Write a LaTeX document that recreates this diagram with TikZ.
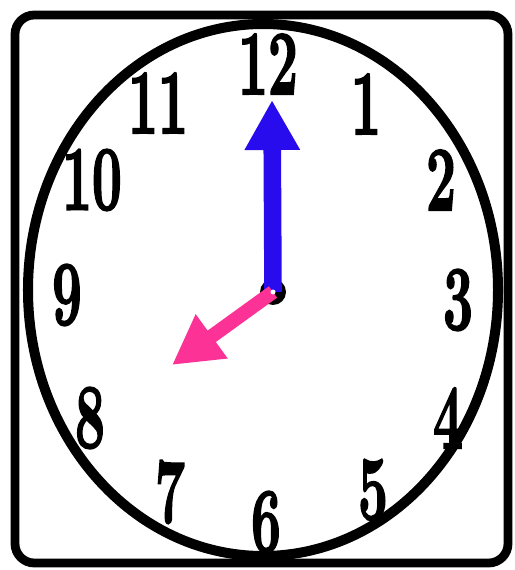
\documentclass[tikz,border=0pt]{standalone}
\usepackage{graphicx}
\usepackage{fontspec}
\usetikzlibrary{arrows.meta}
\newfontfamily\dialfont[FakeBold=2.5]{Latin Modern Roman}
\definecolor{handblue}{RGB}{40,12,238}
\definecolor{handpink}{RGB}{252,50,150}
\newcommand{\narrownum}[1]{\scalebox{0.58}[1]{#1}}

\begin{document}
\begin{tikzpicture}[
    x=0.02cm, y=-0.02cm,
    numeral/.style={font=\dialfont\fontsize{52}{52}\selectfont\bfseries, inner sep=0pt},
    hand/.style={line cap=butt}
]
\useasboundingbox (0,0) rectangle (514,570);

% --- FRAME ---
\draw[line width=5pt, rounded corners=11pt] (15,15) rectangle (508,563);

% --- DIAL ---
\draw[line width=5.7pt] (263,290) ellipse [x radius=235, y radius=266];

% --- NUMBERS ---
\foreach \n/\x/\y in {12/268/64, 1/366/104, 2/441/180, 3/458/300, 4/448/418, 5/373/490,
                      6/266/522, 7/170/492, 8/90/418, 9/67/295, 10/92/180, 11/158/103} {
    \node[numeral] (num\n) at (\x,\y) {\narrownum{\n}};
}

% --- HANDS ---
\node[circle, fill=black, minimum size=0.52cm, inner sep=0pt] (hub) at (273,292) {};
\coordinate (tipmin) at (272,100);
\coordinate (tiphour) at (172,365);

\draw[hand, handblue, line width=10pt, -{Triangle[length=1cm, width=1.04cm]}] (hub.center) -- (tipmin);
\draw[hand, handpink, line width=8pt, -{Triangle[length=0.98cm, width=1.02cm]}] (hub.center) -- (tiphour);

\node[circle, fill=white, minimum size=0.1cm, inner sep=0pt] (pin) at (hub) {};

\end{tikzpicture}
\end{document}
